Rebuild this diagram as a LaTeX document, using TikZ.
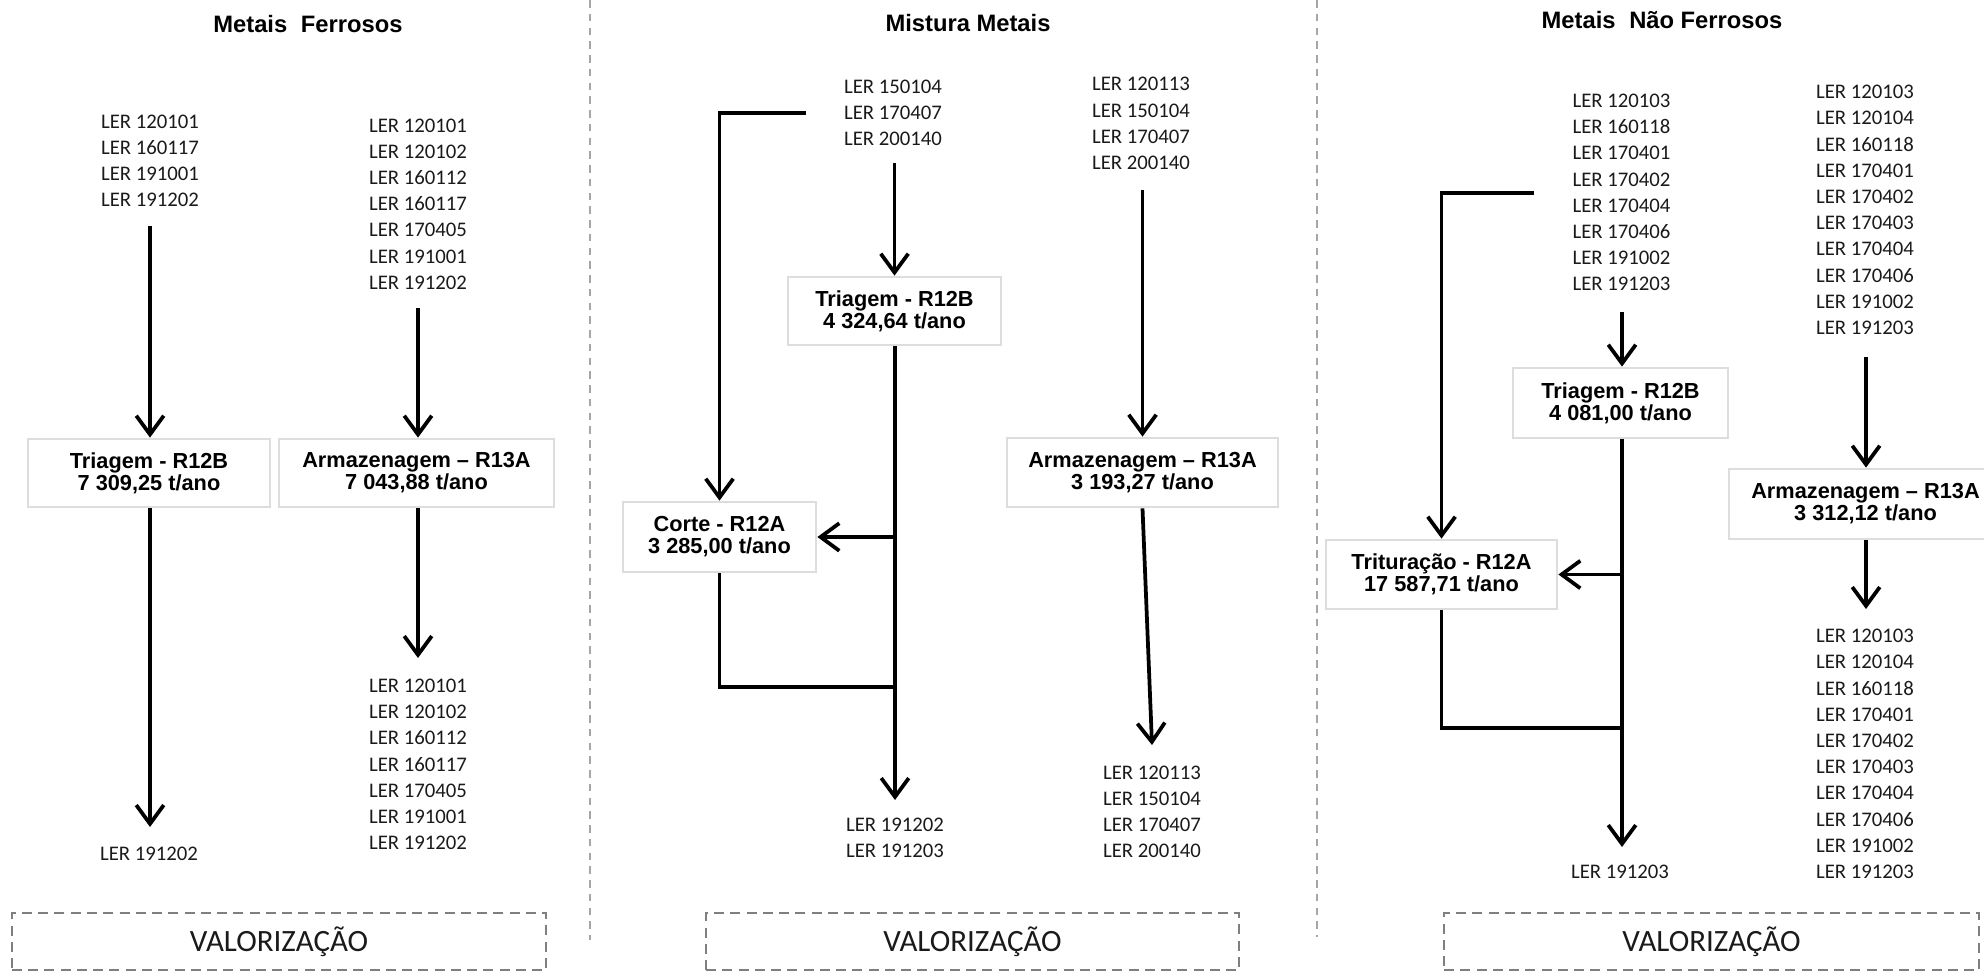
\documentclass[tikz,border=0pt]{standalone}
\usepackage{fontspec}
\usetikzlibrary{arrows.meta}
\newfontfamily\lerfont{Carlito}
\newfontfamily\headfont{Liberation Sans}
\definecolor{boxgray}{HTML}{DDDDDD}
\definecolor{sepgray}{HTML}{A6A6A6}
\definecolor{valgray}{HTML}{7F7F7F}
\definecolor{lertext}{HTML}{1A1A1A}

\tikzset{
  ler/.style={font=\lerfont\fontsize{8.3}{10.48}\selectfont, align=center, inner sep=0pt, text=lertext},
  procbox/.style={draw=boxgray, line width=1.1pt, font=\headfont\bfseries\fontsize{8.7}{8.8}\selectfont, align=center, inner sep=0pt},
  flow/.style={line width=1.5pt, -{Straight Barb[length=7.5pt,width=11pt]}},
  link/.style={line width=1.5pt},
  paneltitle/.style={font=\headfont\bfseries\fontsize{9.5}{11}\selectfont, inner sep=0pt},
  valbox/.style={draw=valgray, line width=0.9pt, dash pattern=on 4pt off 2.5pt, font=\lerfont\fontsize{12.4}{14}\selectfont, inner sep=0pt, text=lertext},
  divider/.style={draw=sepgray, line width=0.5pt, dash pattern=on 3pt off 2.5pt},
}

\begin{document}
\begin{tikzpicture}[x=0.4pt, y=-0.4pt]
\useasboundingbox (0,0) rectangle (1984,973);
\clip (0,0) rectangle (1984,973);

% ---------------- Metais Ferrosos ----------------
\node[paneltitle] (title1) at (308,24) {Metais\hspace{0.3em} Ferrosos};
\node[ler] (lerA) at (150,161) {LER 120101\\LER 160117\\LER 191001\\LER 191202};
\node[ler] (lerB) at (418,204) {LER 120101\\LER 120102\\LER 160112\\LER 160117\\LER 170405\\LER 191001\\LER 191202};
\node[procbox, minimum width=96.8pt, minimum height=27.2pt] (triA) at (149,473) {Triagem - R12B\\7 309,25 t/ano};
\node[procbox, minimum width=110pt, minimum height=27.2pt] (armA) at (416.5,473) {Armazenagem – R13A\\7 043,88 t/ano};
\node[ler] (outA) at (149,854) {LER 191202};
\node[ler] (lerC) at (418,764.5) {LER 120101\\LER 120102\\LER 160112\\LER 160117\\LER 170405\\LER 191001\\LER 191202};
\node[valbox, minimum width=213.6pt, minimum height=22.8pt] (val1) at (279,941.5) {VALORIZAÇÃO};

\coordinate (sA) at (150,226);
\coordinate (eA) at (150,827);
\coordinate (sB) at (418,308);
\coordinate (eB) at (418,658);
\draw[flow] (sA) -- (sA |- triA.north);
\draw[flow] (sB) -- (sB |- armA.north);
\draw[flow] (eA |- triA.south) -- (eA);
\draw[flow] (eB |- armA.south) -- (eB);

\draw[divider] (590,0) -- (590,940);

% ---------------- Mistura Metais ----------------
\node[paneltitle] (title2) at (968,23) {Mistura Metais};
\node[ler] (lerD) at (893,113) {LER 150104\\LER 170407\\LER 200140};
\node[ler] (lerE) at (1141,123.5) {LER 120113\\LER 150104\\LER 170407\\LER 200140};
\node[procbox, minimum width=85.2pt, minimum height=27.2pt] (triM) at (894.5,311) {Triagem - R12B\\4 324,64 t/ano};
\node[procbox, minimum width=77.2pt, minimum height=28pt] (corte) at (719.5,537) {Corte - R12A\\3 285,00 t/ano};
\node[procbox, minimum width=108.4pt, minimum height=27.6pt] (armM) at (1142.5,472.5) {Armazenagem – R13A\\3 193,27 t/ano};
\node[ler] (outM) at (895,837.5) {LER 191202\\LER 191203};
\node[ler] (lerF) at (1152,811.75) {LER 120113\\LER 150104\\LER 170407\\LER 200140};
\node[valbox, minimum width=213.2pt, minimum height=22.8pt] (val2) at (972.5,941.5) {VALORIZAÇÃO};

\coordinate (bD) at (806,113);
\coordinate (sD) at (894.5,163);
\coordinate (eM) at (895,800);
\coordinate (jM) at (895,687);
\coordinate (sE) at (1142.5,190);
\coordinate (eE) at (1152,745);
\draw[flow] (bD) -| (corte.north);
\draw[flow] (sD) -- (sD |- triM.north);
\draw[flow] (eM |- triM.south) -- (eM);
\draw[flow] (eM |- corte.east) -- (corte.east);
\draw[link] (corte.south) |- (jM);
\draw[flow] (sE) -- (sE |- armM.north);
\draw[flow] (armM.south) -- (eE);

\draw[divider] (1317,0) -- (1317,937);

% ---------------- Metais Não Ferrosos ----------------
\node[paneltitle] (title3) at (1662,20) {Metais\hspace{0.3em} Não Ferrosos};
\node[ler] (lerG) at (1621.5,192.5) {LER 120103\\LER 160118\\LER 170401\\LER 170402\\LER 170404\\LER 170406\\LER 191002\\LER 191203};
\node[ler] (lerH) at (1865,210) {LER 120103\\LER 120104\\LER 160118\\LER 170401\\LER 170402\\LER 170403\\LER 170404\\LER 170406\\LER 191002\\LER 191203};
\node[procbox, minimum width=86pt, minimum height=28pt] (triN) at (1620.5,403) {Triagem - R12B\\4 081,00 t/ano};
\node[procbox, minimum width=92.4pt, minimum height=27.6pt] (trit) at (1441.5,574.5) {Trituração - R12A\\17 587,71 t/ano};
\node[procbox, minimum width=109.2pt, minimum height=28pt] (armN) at (1865.5,504) {Armazenagem – R13A\\3 312,12 t/ano};
\node[ler] (outN) at (1620,872) {LER 191203};
\node[ler] (lerI) at (1865,754) {LER 120103\\LER 120104\\LER 160118\\LER 170401\\LER 170402\\LER 170403\\LER 170404\\LER 170406\\LER 191002\\LER 191203};
\node[valbox, minimum width=214pt, minimum height=22.8pt] (val3) at (1711.5,941.5) {VALORIZAÇÃO};

\coordinate (bG) at (1534,193);
\coordinate (sG) at (1622,312);
\coordinate (eN) at (1622,847);
\coordinate (jN) at (1622,728);
\coordinate (sH) at (1866,357);
\coordinate (eH) at (1866,609);
\draw[flow] (bG) -| (trit.north);
\draw[flow] (sG) -- (sG |- triN.north);
\draw[flow] (eN |- triN.south) -- (eN);
\draw[flow] (eN |- trit.east) -- (trit.east);
\draw[link] (trit.south) |- (jN);
\draw[flow] (sH) -- (sH |- armN.north);
\draw[flow] (eH |- armN.south) -- (eH);
\end{tikzpicture}
\end{document}
